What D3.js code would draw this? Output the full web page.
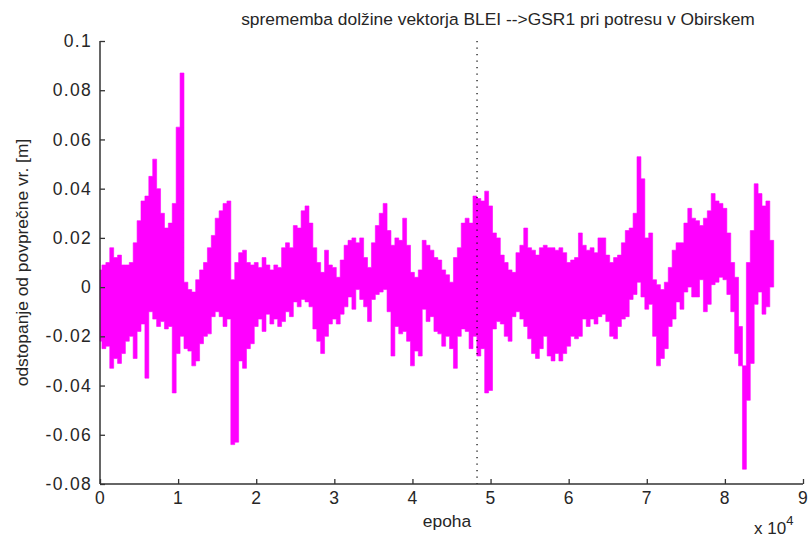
<!DOCTYPE html>
<html>
<head>
<meta charset="utf-8">
<script src="https://cdn.jsdelivr.net/npm/d3@7"></script>
<style>
  body { margin: 0; background: #fff; }
  text { font-family: "Liberation Sans", Arial, sans-serif; }
</style>
</head>
<body>
<div id="chart"></div>
<script>
// column start epochs (x 10^4 units), every 0.05 -> 500 epochs
var colStep = 0.05
// per column max / min deviation in mm
var hiMM = [7,9,10,16,12,13,9,9,10,18,27,35,37,45,52,40,30,24,26,34,
  65,87,2,-1,-2,3,7,10,16,21,28,31,34,35,3,10,14,15,10,9,
  10,8,12,9,7,9,8,16,18,16,25,24,31,33,26,16,10,6,15,9,
  8,4,11,17,19,20,18,20,12,8,18,25,30,34,23,17,20,19,28,17,
  6,4,7,19,17,15,12,11,7,5,2,12,16,26,28,26,37,36,35,39,
  33,22,20,13,10,7,6,14,17,24,16,15,13,16,17,16,16,15,16,14,
  10,11,12,22,17,15,16,14,20,20,13,10,12,13,18,23,24,30,53,44,
  20,22,3,1,-1,2,8,15,18,18,26,32,28,27,25,28,31,38,35,34,
  32,22,10,4,-16,-32,10,23,42,38,33,35,19]
var loMM = [-22,-25,-24,-33,-29,-31,-27,-22,-20,-29,-18,-15,-37,-10,-13,-16,-14,-17,-16,-43,
  -27,-20,-25,-26,-32,-30,-23,-20,-19,-12,-10,-12,-16,-13,-64,-63,-30,-33,-25,-23,
  -16,-13,-18,-11,-15,-13,-16,-14,-10,-12,-6,-8,-5,-6,-8,-17,-22,-27,-20,-15,
  -13,-15,-11,-8,-4,-9,-1,-5,-8,-14,-5,-3,-2,-1,-10,-28,-16,-19,-18,-22,
  -32,-26,-28,-9,-14,-12,-18,-19,-24,-20,-25,-33,-20,-17,-18,-25,-20,-28,-25,-43,
  -42,-17,-14,-15,-20,-22,-12,-10,-13,-16,-21,-27,-29,-25,-20,-28,-30,-27,-30,-27,
  -24,-20,-21,-20,-13,-16,-13,-15,-12,-11,-14,-20,-21,-16,-13,-12,-5,-3,2,-4,
  -9,-7,-20,-32,-29,-25,-16,-13,-6,-9,-2,0,-4,-4,3,-10,-7,1,2,4,
  3,-3,-10,-27,-32,-74,-46,-31,-7,-2,-11,-8,0]
var quakeEpoch = 48270
var xTicks = [0,1,2,3,4,5,6,7,8,9]
var yTicks = [-0.08,-0.06,-0.04,-0.02,0,0.02,0.04,0.06,0.08,0.1]

var width = 809, height = 540
var margin = {left: 100, right: 6, top: 41, bottom: 56}
var txt = "#262626"

var svg = d3.select("#chart").append("svg")
    .attr("width", width)
    .attr("height", height)

var x = d3.scaleLinear().domain([0, 90000]).range([margin.left, width - margin.right])
var y = d3.scaleLinear().domain([-0.08, 0.1]).range([height - margin.bottom, margin.top])

var half = colStep * 1e4 / 2
// each column spans [u - half, u + half]; duplicate the ends so the step area is flat
var cols = []
hiMM.forEach((h, i) => {
  var u = i * colStep * 1e4
  cols.push({u: Math.max(0, u - half), hi: h / 1000, lo: loMM[i] / 1000})
  cols.push({u: u + half, hi: h / 1000, lo: loMM[i] / 1000})
})

// a column with identical hi and lo would vanish; keep at least 1px
var area = d3.area()
    .x(d => x(d.u))
    .y0(d => Math.max(y(d.lo), y(d.hi) + 1))
    .y1(d => y(d.hi))
    .curve(d3.curveStepBefore)

svg.append("path")
    .datum(cols)
    .attr("d", area)
    .attr("fill", "#ff00ff")
    .attr("stroke", "#ff00ff")
    .attr("stroke-width", 0.6)

// earthquake marker
svg.append("line")
    .attr("x1", x(quakeEpoch)).attr("x2", x(quakeEpoch))
    .attr("y1", y(0.1)).attr("y2", y(-0.08))
    .attr("stroke", "#111")
    .attr("stroke-width", 1.3)
    .attr("stroke-dasharray", "1.3,5.2")

var yAxis = svg.append("g")
    .attr("transform", `translate(${margin.left},0)`)
    .call(d3.axisRight(y).tickValues(yTicks).tickSize(5)
      .tickFormat(d => d === 0 ? "0" : String(+d.toFixed(2))))
yAxis.selectAll("text").attr("x", -8).attr("text-anchor", "end")

var xAxis = svg.append("g")
    .attr("transform", `translate(0,${height - margin.bottom})`)
    .call(d3.axisTop(x).tickValues(xTicks.map(t => t * 1e4)).tickSize(5)
      .tickFormat(d => d / 1e4))
xAxis.selectAll("text").attr("y", 8).attr("dy", "0.71em")

svg.selectAll(".domain").attr("stroke", "#333").attr("stroke-width", 1.5)
svg.selectAll(".tick line").attr("stroke", "#333").attr("stroke-width", 1.3)
svg.selectAll(".tick text").attr("font-size", 17.5).attr("fill", txt)
  .attr("letter-spacing", 1.3)
  .style("font-family", "'Liberation Sans', Arial, sans-serif")
// keep the domain as plain lines (no outer tick stubs)
yAxis.select(".domain").attr("d", `M0,${y(-0.08)}V${y(0.1)}`)
xAxis.select(".domain").attr("d", `M${x(0)},0H${x(90000)}`)

svg.append("text")
    .attr("x", 498).attr("y", 25)
    .attr("text-anchor", "middle").attr("font-size", 17.4).attr("fill", txt)
    .text("sprememba dolžine vektorja BLEI -->GSR1 pri potresu v Obirskem")

svg.append("text")
    .attr("x", 447).attr("y", 527)
    .attr("text-anchor", "middle").attr("font-size", 17.4).attr("fill", txt)
    .text("epoha")

var sci = svg.append("text")
    .attr("x", 754).attr("y", 534)
    .attr("font-size", 17).attr("fill", txt)
sci.append("tspan").text("x 10")
sci.append("tspan").attr("dy", -9).attr("font-size", 13).text("4")

svg.append("text")
    .attr("transform", `translate(28,${(y(0.1) + y(-0.08)) / 2}) rotate(-90)`)
    .attr("text-anchor", "middle").attr("font-size", 17.4).attr("fill", txt)
    .text("odstopanje od povprečne vr. [m]")
</script>
</body>
</html>
